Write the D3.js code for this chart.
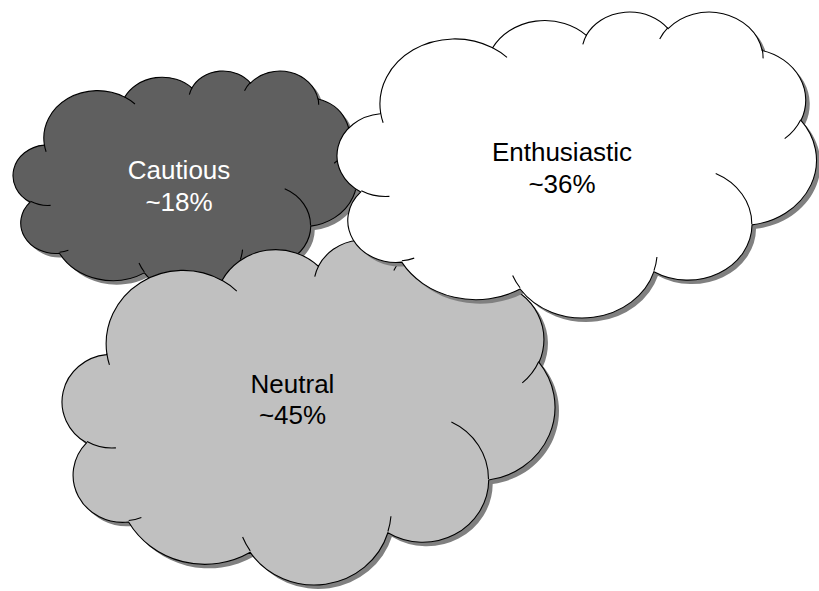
<!DOCTYPE html>
<html>
<head>
<meta charset="utf-8">
<script src="https://cdn.jsdelivr.net/npm/d3@7"></script>
<style>
  html, body { margin: 0; padding: 0; background: #ffffff; }
  svg { display: block; }
</style>
</head>
<body>
<svg id="chart" width="819" height="591"></svg>
<script>
// sentiment clouds
const categories = ["Cautious", "Enthusiastic", "Neutral"];
const shares = [18, 36, 45];
const fills = ["#5f5f5f", "#ffffff", "#c0c0c0"];
const textColors = ["#ffffff", "#000000", "#000000"];
const drawOrder = [0, 2, 1]; // neutral sits over cautious, enthusiastic over both

// layout: outline extents of each cloud [left, top, right, bottom]
const extents = [
    [13, 71, 357, 294],
    [337, 12, 816.5, 318],
    [62, 240, 555, 585]
];
// layout: first baseline of each label [x, y]
const labelAt = [
    [179, 179],
    [562, 161],
    [292.5, 392.7]
];
const lineGap = 31.7;

// ooxml preset "cloud" outline, path space 43200 x 43200
const cloudStart = [3900, 14370];
const cloudArcs = [
    [6753, 9190, -11429249, 7426832],
    [5333, 7267, -8646143, 5396714],
    [4365, 5945, -8748475, 5983381],
    [4857, 6595, -7859164, 7034504],
    [5333, 7273, -4722533, 6541615],
    [6775, 9220, -2776035, 7816140],
    [5785, 7867, 37501, 6842000],
    [6752, 9215, 1347096, 6910353],
    [7720, 10543, 3974558, 4542661],
    [4360, 5918, -16496525, 8804134],
    [4345, 5945, -14809710, 9151131]
];
// the small inner strokes
const cloudCurls = [
    [4693, 26177, 4345, 5945, 5204520, 1585770],
    [6928, 34899, 4360, 5918, 4416628, 686848],
    [16478, 39090, 6752, 9215, 8257449, 844866],
    [28827, 34751, 6752, 9215, 387196, 959901],
    [34129, 22954, 5785, 7867, -4217541, 4255042],
    [41798, 15354, 5333, 7273, 1819082, 1665090],
    [38324, 5426, 4857, 6595, -824660, 891534],
    [29078, 3952, 4857, 6595, -8950887, 1091722],
    [22141, 4720, 4365, 5945, -9809656, 1061181],
    [14000, 5192, 6753, 9190, -4002417, 739161],
    [4127, 15789, 6753, 9190, 9459261, 711490]
];

const svg = d3.select("#chart");

function arcSeg(p, wR, hR, st, sw, sx, sy) {
    var a1 = st / 60000 * Math.PI / 180;
    var a2 = (st + sw) / 60000 * Math.PI / 180;
    var t1 = Math.atan2(wR * Math.sin(a1), hR * Math.cos(a1));
    var t2 = Math.atan2(wR * Math.sin(a2), hR * Math.cos(a2));
    var cx = p[0] - wR * Math.cos(t1), cy = p[1] - hR * Math.sin(t1);
    var end = [cx + wR * Math.cos(t2), cy + hR * Math.sin(t2)];
    var large = Math.abs(sw) > 180 * 60000 ? 1 : 0;
    var sweep = sw > 0 ? 1 : 0;
    var rx = Math.abs(sx(wR) - sx(0)), ry = Math.abs(sy(hR) - sy(0));
    return { end: end, d: `A${rx},${ry} 0 ${large} ${sweep} ${sx(end[0])},${sy(end[1])}` };
}

function cloudPaths(x, y) {
    var p = cloudStart.slice();
    var d = `M${x(p[0])},${y(p[1])}`;
    cloudArcs.forEach(a => {
        var s = arcSeg(p, a[0], a[1], a[2], a[3], x, y);
        d += s.d;
        p = s.end;
    });
    d += "Z";
    var curls = "";
    cloudCurls.forEach(c => {
        var s = arcSeg([c[0], c[1]], c[2], c[3], c[4], c[5], x, y);
        curls += `M${x(c[0])},${y(c[1])}` + s.d;
    });
    return { outline: d, curls: curls };
}

// measure the raw outline once so the extents can be fitted exactly
var unit = d3.scaleIdentity();
var probe = svg.append("path").attr("d", cloudPaths(unit, unit).outline);
var bb = probe.node().getBBox();
probe.remove();

drawOrder.forEach(i => {
    var e = extents[i];
    var x = d3.scaleLinear().domain([bb.x, bb.x + bb.width]).range([e[0], e[2]]);
    var y = d3.scaleLinear().domain([bb.y, bb.y + bb.height]).range([e[1], e[3]]);
    var g = svg.append("g").attr("class", "cloud");

    // shadow
    g.append("path")
        .attr("d", cloudPaths(x, y).outline)
        .attr("transform", "translate(4,4)")
        .attr("fill", "#808080");

    var shape = cloudPaths(x, y);
    g.append("path")
        .attr("d", shape.outline)
        .attr("fill", fills[i])
        .attr("stroke", "#000")
        .attr("stroke-width", 1.1);
    g.append("path")
        .attr("d", shape.curls)
        .attr("fill", "none")
        .attr("stroke", "#000")
        .attr("stroke-width", 1.1);

    var label = g.append("text")
        .attr("text-anchor", "middle")
        .attr("font-family", "Arial, 'Liberation Sans', sans-serif")
        .attr("font-size", 26)
        .attr("fill", textColors[i]);
    label.append("tspan").attr("x", labelAt[i][0]).attr("y", labelAt[i][1]).text(categories[i]);
    label.append("tspan").attr("x", labelAt[i][0]).attr("y", labelAt[i][1] + lineGap).text("~" + shares[i] + "%");
});
</script>
</body>
</html>
